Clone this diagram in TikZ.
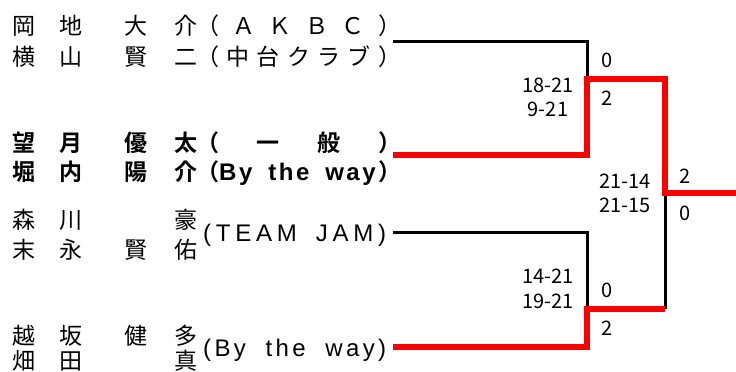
\documentclass[tikz,border=0pt]{standalone}
\usepackage{fontspec}
\setmainfont{Noto Sans CJK JP}[BoldFont={Noto Sans CJK JP Bold}]
\newfontfamily\latfont{Liberation Sans}
\newcommand{\nmrow}[4]{\makebox[47pt][l]{#1}\makebox[65pt][l]{#2}\makebox[50pt][l]{#3}\makebox[22pt][l]{#4}}
\newcommand{\lgap}{\hskip 0pt plus 1fil\relax}
\newcommand{\wgap}{\hskip 6pt plus 4fil\relax}
\newcommand{\latsz}{\latfont\fontsize{24}{26}\selectfont}
\begin{document}
\begin{tikzpicture}[x=1pt,y=-1pt,
  nm/.style={anchor=base west,inner sep=0pt,font=\fontsize{23}{26}\selectfont},
  nmb/.style={nm,font=\fontsize{23}{26}\selectfont\bfseries},
  sc/.style={anchor=base,inner sep=0pt,font=\fontsize{20}{24}\selectfont},
  blk/.style={line width=3pt,black,line join=miter},
  win/.style={line width=6pt,red,line join=miter}]
\useasboundingbox (0,0) rectangle (736,372);
% entries
\node[nm] (e1a) at (12,34) {\nmrow{岡}{地}{大}{介}\makebox[205pt][s]{（\hfil Ａ\hfil Ｋ\hfil Ｂ\hfil Ｃ\hfil ）}};
\node[nm] (e1b) at (12,65) {\nmrow{横}{山}{賢}{二}\makebox[205pt][s]{（\hfil 中\hfil 台\hfil ク\hfil ラ\hfil ブ\hfil ）}};
\node[nmb] (e2a) at (12,151) {\nmrow{望}{月}{優}{太}\makebox[205pt][s]{（\hfil 一\hfil 般\hfil ）}};
\node[nmb] (e2b) at (12,180) {\nmrow{堀}{内}{陽}{介}\makebox[205pt][s]{（{\latsz\bfseries B\lgap y\wgap t\lgap h\lgap e\wgap w\lgap a\lgap y}\lgap ）}};
\node[nm] (e3a) at (12,228) {\nmrow{森}{川}{}{豪}};
\node[nm] (e3b) at (12,258) {\nmrow{末}{永}{賢}{佑}};
\node[nm] (e3c) at (203,241) {\latsz\makebox[183pt][s]{(\hfil T\hfil E\hfil A\hfil M\hfil\hfil\hfil\hfil J\hfil A\hfil M\hfil )}};
\node[nm] (e4a) at (12,344) {\nmrow{越}{坂}{健}{多}};
\node[nm] (e4b) at (12,369) {\nmrow{畑}{田}{}{真}};
\node[nm] (e4c) at (203,356) {\latsz\makebox[183pt][s]{(\lgap B\lgap y\wgap t\lgap h\lgap e\wgap w\lgap a\lgap y\lgap )}};
% scores
\node[sc] (s1a) at (548,92) {18-21};
\node[sc] (s1b) at (548,116) {9-21};
\node[sc] (s2a) at (548,283) {14-21};
\node[sc] (s2b) at (548,308) {19-21};
\node[sc] (s3a) at (625,188) {21-14};
\node[sc] (s3b) at (625,212) {21-15};
\node[sc] (g1a) at (607,67) {0};
\node[sc] (g1b) at (607,105) {2};
\node[sc] (g2a) at (607,297) {0};
\node[sc] (g2b) at (607,335) {2};
\node[sc] (g3a) at (685,183) {2};
\node[sc] (g3b) at (685,220) {0};
% bracket
\coordinate (a1) at (393,41);
\coordinate (a2) at (393,155);
\coordinate (b1) at (393,232.5);
\coordinate (b2) at (393,347);
\coordinate (m1) at (587,79);
\coordinate (m2) at (587,309);
\coordinate (m2r) at (665,309);
\coordinate (f) at (665,193);
\coordinate (out) at (736,193);
\draw[blk] (a1) -| (m1);
\draw[blk] (b1) -| (m2);
\draw[blk] (m2r) -- (f);
\draw[win] (a2) -| (m1) -| (f) -- (out);
\draw[win] (b2) -| (m2) -- (m2r);
\end{tikzpicture}
\end{document}
